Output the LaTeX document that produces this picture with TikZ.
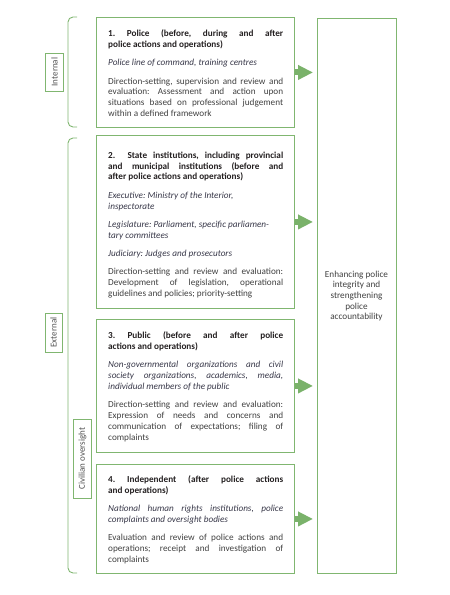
\documentclass[tikz,border=0pt]{standalone}
\usepackage{fontspec}
\setmainfont{Carlito}
\usetikzlibrary{arrows.meta,calc}
\definecolor{gline}{RGB}{128,182,112}
\definecolor{garrow}{RGB}{122,178,106}
\definecolor{ttl}{RGB}{35,31,32}
\definecolor{itc}{RGB}{55,55,72}
\definecolor{bdy}{RGB}{64,64,64}
\definecolor{lbl}{RGB}{80,80,80}
\frenchspacing
\newcommand{\txtsetup}{\frenchspacing\hyphenpenalty=10000 \tolerance=9999 \parskip=7.4pt \parindent=0pt\relax}
\newcommand{\ttlf}[1]{{\bfseries\color{ttl}#1\par}}
\newcommand{\itf}[1]{{\itshape\color{itc}#1\par}}
\newcommand{\bdf}[1]{{\color{bdy}#1\par}}
\tikzset{
  box/.style={draw=gline, line width=0.9pt, rectangle, inner sep=0pt, anchor=north west},
  txt/.style={anchor=north west, inner sep=0pt, text width=175pt, align=justify,
    font=\fontsize{9.2}{10.9}\selectfont},
  bigarrow/.style={draw=garrow, line width=6pt, shorten >=4pt,
    -{Triangle[length=15pt,width=14pt,fill=garrow]}},
  bracket/.style={draw=gline, line width=0.9pt, rounded corners=5pt},
  sidelbl/.style={draw=gline, line width=0.9pt, rotate=90, inner sep=0pt,
    font=\fontsize{9}{10}\selectfont, text=lbl, minimum height=18pt}
}
\begin{document}
\begin{tikzpicture}[x=1pt,y=-1pt]
\useasboundingbox (0,0) rectangle (450,595);
% boxes
\node[box, minimum width=198pt, minimum height=110pt] (b1) at (96,17) {};
\node[box, minimum width=198pt, minimum height=173pt] (b2) at (96,135) {};
\node[box, minimum width=198pt, minimum height=133pt] (b3) at (96,319) {};
\node[box, minimum width=198pt, minimum height=109pt] (b4) at (96,464) {};
\node[box, minimum width=79pt, minimum height=555pt] (R) at (317,18) {};
% texts
\node[txt] (t1) at (108,29.5) {\txtsetup
\ttlf{1. Police (before, during and after\linebreak police actions and operations)}
\itf{Police line of command, training centres}
\bdf{Direction-setting, supervision and review and\linebreak evaluation: Assessment and action upon\linebreak situations based on professional judgement\linebreak within a defined framework}};
\node[txt] (t2) at (108,151.5) {\txtsetup
\ttlf{2.\ \ State institutions, including provincial\linebreak and municipal institutions (before and\linebreak after police actions and operations)}
\itf{Executive: Ministry of the Interior,\\ inspectorate}
\itf{Legislature: Parliament, specific parliamen-\\tary committees}
\itf{Judiciary: Judges and prosecutors}
\bdf{Direction-setting and review and evaluation:\linebreak Development of legislation, operational\linebreak guidelines and policies; priority-setting}};
\node[txt] (t3) at (108,331.5) {\txtsetup
\ttlf{3. Public (before and after police\linebreak actions and operations)}
\itf{Non-governmental organizations and civil\linebreak society organizations, academics, media,\linebreak individual members of the public}
\bdf{Direction-setting and review and evaluation:\linebreak Expression of needs and concerns and\linebreak communication of expectations; filing of\linebreak complaints}};
\node[txt] (t4) at (108,475.5) {\txtsetup
\ttlf{4. Independent (after police actions\linebreak and operations)}
\itf{National human rights institutions, police\linebreak complaints and oversight bodies}
\bdf{Evaluation and review of police actions and\linebreak operations; receipt and investigation of\linebreak complaints}};
\node[align=center, text=bdy, font=\fontsize{9.2}{10.6}\selectfont, inner sep=0pt] (rt) at (356.5,296)
  {Enhancing police\\integrity and\\strengthening\\police\\accountability};
% arrows
\foreach \b in {b1,b2,b3,b4}{
  \draw[bigarrow] (\b.east) -- (\b.east -| R.west);
}
% brackets
\coordinate (i1) at (77,17);
\coordinate (i2) at (77,127);
\coordinate (e1) at (77,138);
\coordinate (e2) at (77,573);
\draw[bracket] (i1) -- (68,17) -- (68,127) -- (i2);
\draw[bracket] (e1) -- (68,138) -- (68,573) -- (e2);
% side labels
\node[sidelbl, minimum width=38pt] (li) at (54.5,72) {Internal};
\node[sidelbl, minimum width=39pt, minimum height=17pt] (le) at (53.5,332.5) {External};
\node[sidelbl, minimum width=79pt] (lc) at (82.5,458.5) {Civilian oversight};
\end{tikzpicture}
\end{document}
